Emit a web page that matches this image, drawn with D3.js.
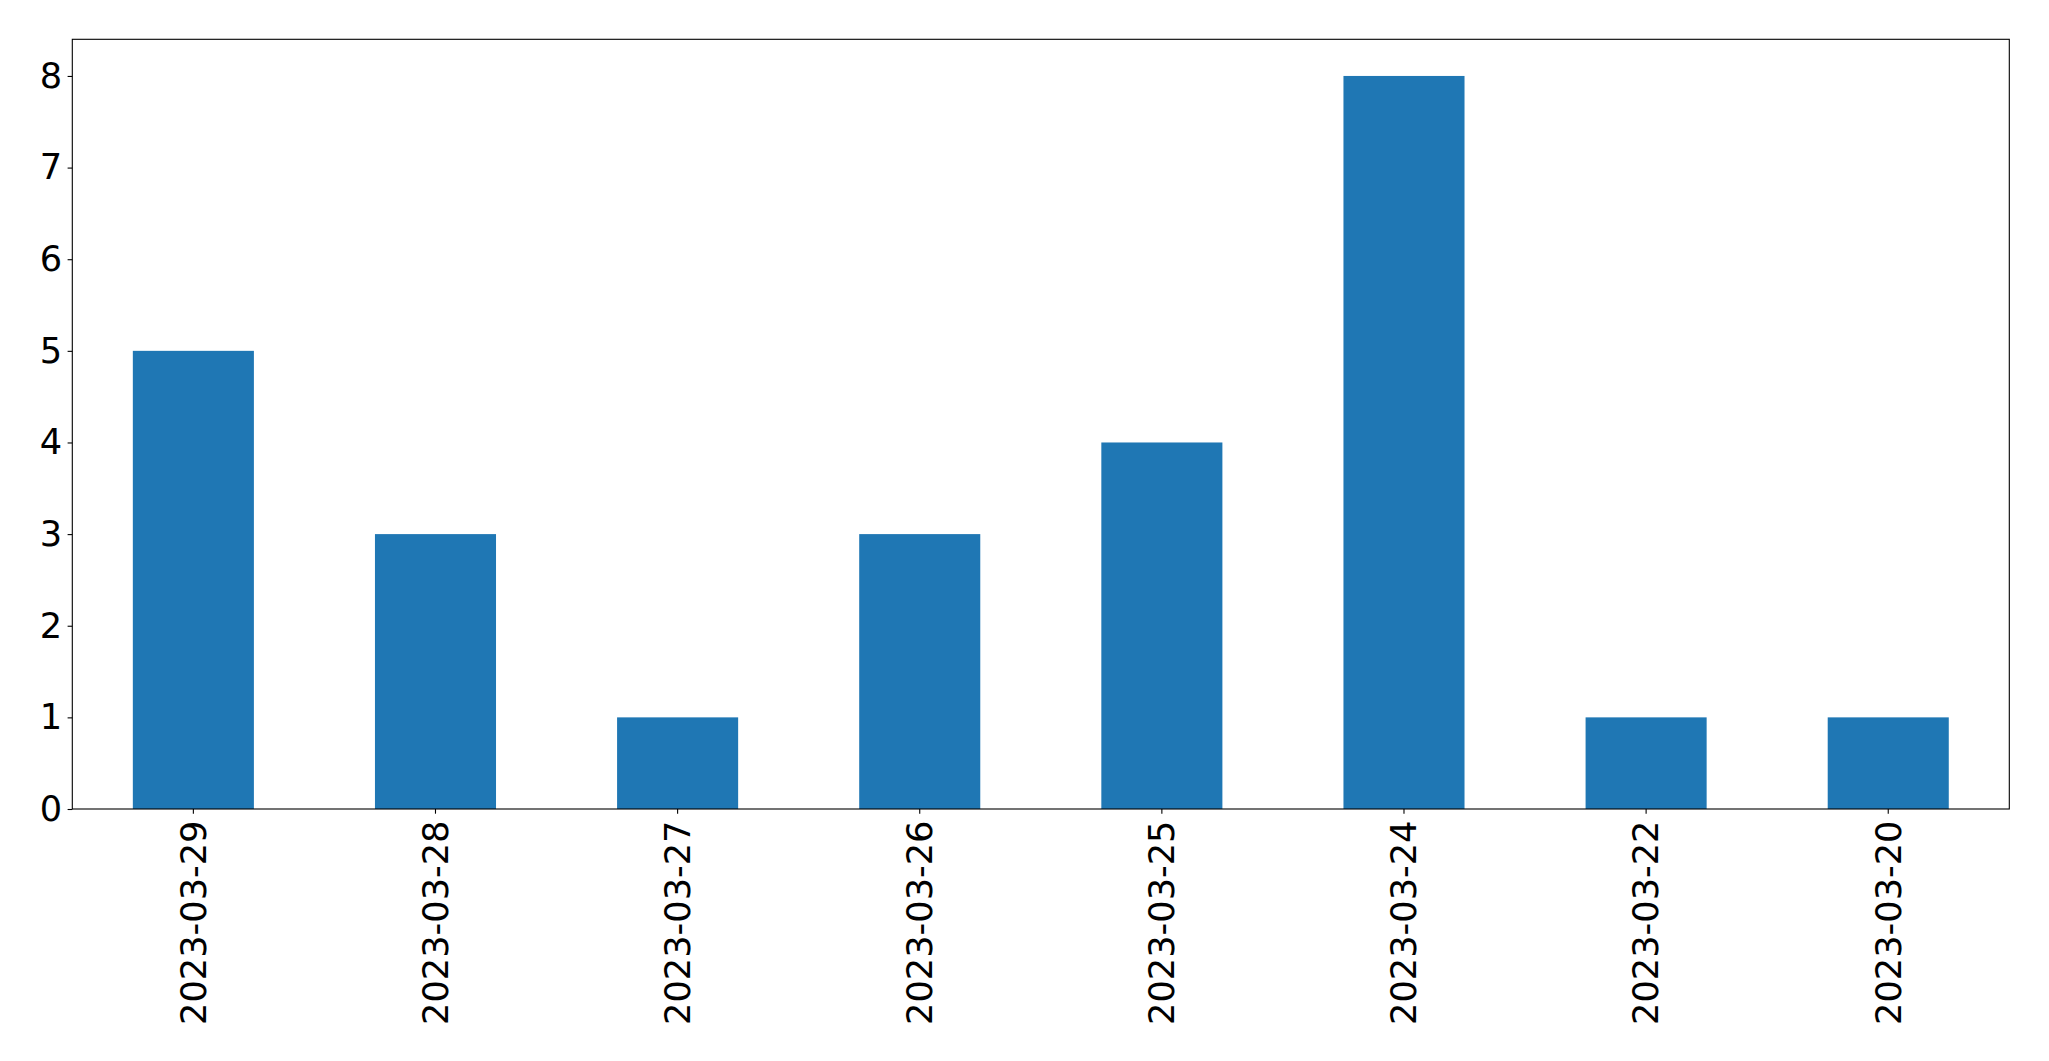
<!DOCTYPE html>
<html><head><meta charset="utf-8">
<script src="https://cdn.jsdelivr.net/npm/d3@7"></script>
<style>body{margin:0;background:#fff}svg{display:block}</style>
</head><body>
<script>
const categories = ["2023-03-29","2023-03-28","2023-03-27","2023-03-26","2023-03-25","2023-03-24","2023-03-22","2023-03-20"];
const values = [5,3,1,3,4,8,1,1];
const yTicks = [0,1,2,3,4,5,6,7,8];

(function(){
const W = 2049, H = 1061;
const mLeft = 72.3, mRight = 2009.3, mTop = 39.3, mBottom = 809;
const fontSize = 35.2;
const svg = d3.select("body").append("svg").attr("width", W).attr("height", H);

const x = d3.scaleBand().domain(categories).range([mLeft, mRight]).paddingInner(0.5).paddingOuter(0.25);
const y = d3.scaleLinear().domain([0, 8.4]).range([mBottom, mTop]);

svg.append("g").selectAll("rect").data(values).join("rect")
  .attr("x", (d,i) => x(categories[i]))
  .attr("width", x.bandwidth())
  .attr("y", d => y(d))
  .attr("height", d => y(0) - y(d))
  .attr("fill", "#1f77b4");

const font = "DejaVu Sans";
const yAxis = svg.append("g").attr("transform", `translate(${mLeft},0)`)
  .call(d3.axisLeft(y).tickValues(yTicks).tickFormat(d3.format("d")).tickSize(4.7).tickPadding(5.5));
const xAxis = svg.append("g").attr("transform", `translate(0,${mBottom})`)
  .call(d3.axisBottom(x).tickSize(4.7).tickPadding(4.7));
[xAxis, yAxis].forEach(g => {
  g.select(".domain").remove();
  g.selectAll("line").attr("stroke", "#000").attr("stroke-width", 1.1);
  g.selectAll("text").attr("font-family", font).attr("font-size", fontSize).attr("fill", "#000");
});
xAxis.selectAll("text")
  .attr("transform", "rotate(-90)")
  .attr("x", -11.5).attr("y", 0).attr("dy", "0.35em")
  .attr("text-anchor", "end");

svg.append("rect").attr("x", mLeft).attr("y", mTop)
  .attr("width", mRight - mLeft).attr("height", mBottom - mTop)
  .attr("fill", "none").attr("stroke", "#000").attr("stroke-width", 1.1);
})();
</script>
</body></html>
